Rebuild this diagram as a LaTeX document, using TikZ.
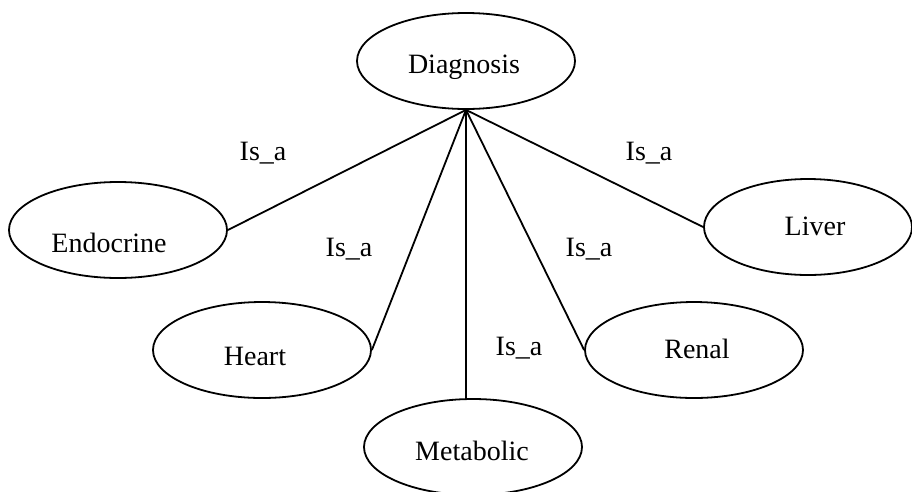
\documentclass[tikz,border=0pt]{standalone}
\usepackage{fontspec}
\setmainfont{Liberation Serif}
\usetikzlibrary{shapes.geometric}

\tikzset{
  concept/.style={ellipse, draw, line width=1.8pt, inner sep=0pt,
    minimum width=218pt, minimum height=96pt},
  name text/.style={anchor=base, inner sep=0pt, font=\fontsize{28}{34}\selectfont},
  relation/.style={anchor=base, inner sep=0pt, font=\fontsize{28}{34}\selectfont},
  link/.style={draw, line width=1.8pt}
}

\begin{document}
\begin{tikzpicture}[x=1pt, y=-1pt]
  \useasboundingbox (0,0) rectangle (912,491);

  % concept ellipses
  \node[concept] (diag) at (466,61) {};
  \node[concept] (endo) at (118,230) {};
  \node[concept] (heart) at (262,350) {};
  \node[concept] (meta) at (473,447) {};
  \node[concept] (renal) at (694,350) {};
  \node[concept, minimum width=208pt] (liver) at (808,227) {};

  % concept names
  \node[name text] (diag-t) at (464,73) {Diagnosis};
  \node[name text] (endo-t) at (109,252) {Endocrine};
  \node[name text] (heart-t) at (255,365) {Heart};
  \node[name text] (meta-t) at (472,460) {Metabolic};
  \node[name text] (renal-t) at (697,358) {Renal};
  \node[name text] (liver-t) at (815,235) {Liver};

  % is-a links from the root concept
  \draw[link] (diag.south) -- (endo.east);
  \draw[link] (diag.south) -- (heart.east);
  \draw[link] (diag.south) -- (diag.south |- meta.north);
  \draw[link] (diag.south) -- (renal.west);
  \draw[link] (diag.south) -- (liver.west);

  % relation labels
  \node[relation] (r1) at (263,160.5) {Is\_a};
  \node[relation] (r2) at (349,256.5) {Is\_a};
  \node[relation] (r3) at (519,355.5) {Is\_a};
  \node[relation] (r4) at (589,256.5) {Is\_a};
  \node[relation] (r5) at (649,160.5) {Is\_a};
\end{tikzpicture}
\end{document}
